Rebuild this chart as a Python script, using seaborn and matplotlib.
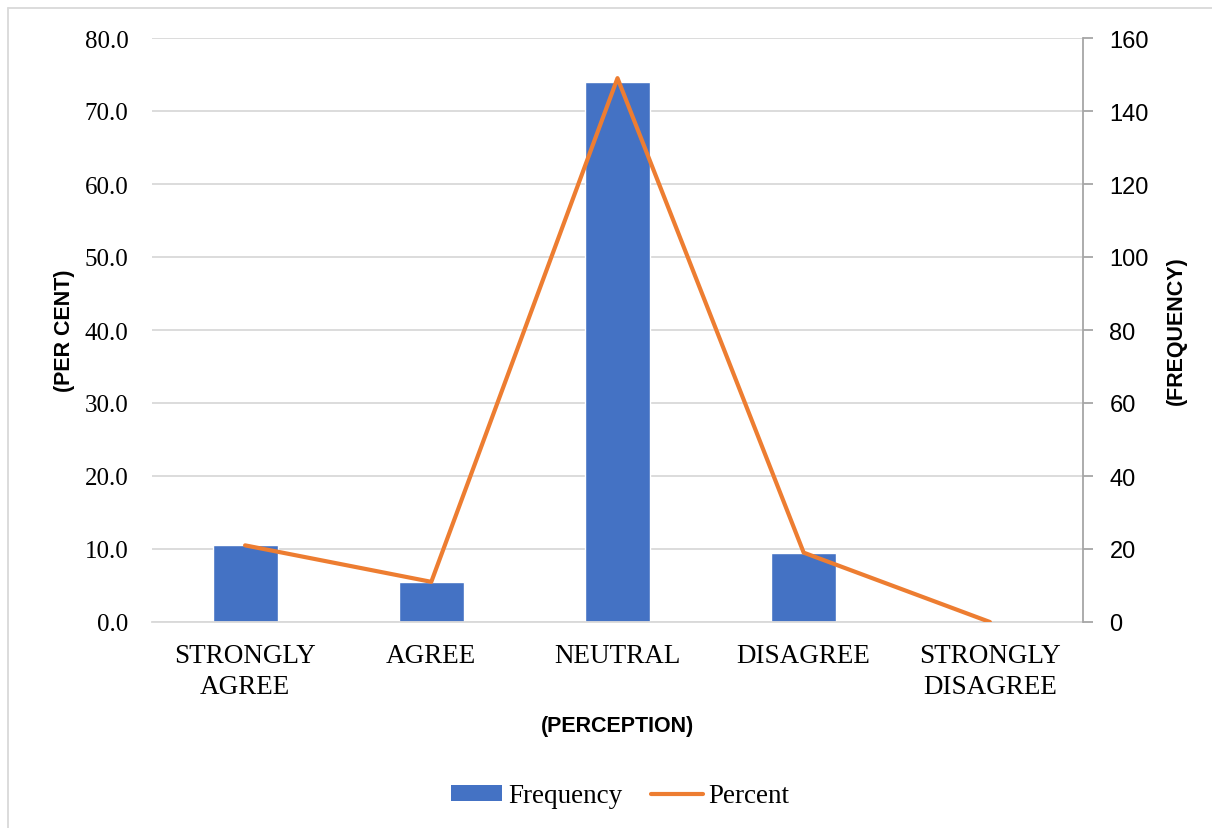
import matplotlib
matplotlib.use("Agg")
import matplotlib.pyplot as plt
import seaborn as sns
import pandas as pd
from matplotlib.lines import Line2D
from matplotlib.patches import Patch

# Survey responses by perception category
categories = ["STRONGLY\nAGREE", "AGREE", "NEUTRAL", "DISAGREE", "STRONGLY\nDISAGREE"]
frequency_pct = [10.5, 5.5, 74.0, 9.5, 0.0]     # bars, left axis (per cent)
percent_freq = [21, 11, 149, 19, 0]             # line, right axis (frequency)
left_ticks = [0, 10, 20, 30, 40, 50, 60, 70, 80]
right_ticks = [0, 20, 40, 60, 80, 100, 120, 140, 160]

df = pd.DataFrame({"category": categories,
                   "bar": frequency_pct,
                   "line": percent_freq})

sns.set_theme(style="white", rc={"text.color": "black",
                                 "axes.labelcolor": "black",
                                 "xtick.color": "black",
                                 "ytick.color": "black"})
serif = ["Liberation Serif", "DejaVu Serif"]
sans = ["Liberation Sans", "DejaVu Sans"]

BLUE = "#4472C4"
ORANGE = "#ED7D31"
GRID = "#D9D9D9"

fig = plt.figure(figsize=(12.12, 8.29), dpi=100)
ax = fig.add_axes([152 / 1212, 1 - 623 / 829, (1083 - 152) / 1212, (623 - 39) / 829])

sns.barplot(data=df, x="category", y="bar", color=BLUE, width=0.35,
            saturation=1, ax=ax, zorder=2)
ax.set_ylim(0, 80)
ax.set_yticks(left_ticks)
ax.set_yticklabels([f"{v:.1f}" for v in left_ticks], family=serif, fontsize=18)
ax.grid(axis="y", color=GRID, linewidth=1.3, zorder=0)
ax.set_axisbelow(True)
for s in ["left", "right", "top"]:
    ax.spines[s].set_visible(False)
ax.spines["bottom"].set_color(GRID)
ax.spines["bottom"].set_linewidth(1.3)
ax.tick_params(axis="y", length=0, pad=17)
ax.tick_params(axis="x", length=0, pad=15)
for lbl in ax.get_xticklabels():
    lbl.set_family(serif)
    lbl.set_fontsize(19.5)
    lbl.set_linespacing(1.3)
ax.set_xlabel("(PERCEPTION)", family=sans, fontweight="bold", fontsize=15.5, labelpad=12)
ax.set_ylabel("(PER CENT)", family=sans, fontweight="bold", fontsize=15.5, labelpad=7)

ax2 = ax.twinx()
sns.lineplot(data=df, x="category", y="line", color=ORANGE, linewidth=3,
             sort=False, ax=ax2)
ax2.set_ylim(0, 160)
ax2.set_yticks(right_ticks)
ax2.set_yticklabels([str(v) for v in right_ticks], family=sans, fontsize=17)
for s in ["left", "top", "bottom"]:
    ax2.spines[s].set_visible(False)
ax2.spines["right"].set_color("#A6A6A6")
ax2.spines["right"].set_linewidth(1.3)
ax2.tick_params(axis="y", direction="out", length=7, width=1.3, color="#A6A6A6",
                labelcolor="black", pad=12)
ax2.set_ylabel("(FREQUENCY)", family=sans, fontweight="bold", fontsize=15.5,
               labelpad=12, rotation=90)
ax.set_xlim(-0.5, len(categories) - 0.5)

handles = [Patch(facecolor=BLUE, edgecolor="none", label="Frequency"),
           Line2D([0], [0], color=ORANGE, linewidth=3, label="Percent")]
fig.legend(handles=handles, loc="center", bbox_to_anchor=(620 / 1212, 1 - 797 / 829),
           ncol=2, frameon=False, prop={"family": serif, "size": 19.5},
           handlelength=1.9, handleheight=0.55, columnspacing=1.07, handletextpad=0.2)

# Chart area border (left and top edges)
fig.add_artist(Line2D([8 / 1212, 8 / 1212], [0, 1 - 9 / 829], transform=fig.transFigure,
                      color=GRID, linewidth=1.3))
fig.add_artist(Line2D([8 / 1212, 1], [1 - 9 / 829, 1 - 9 / 829], transform=fig.transFigure,
                      color=GRID, linewidth=1.3))

fig.savefig("out.png", dpi=100, facecolor="white")
